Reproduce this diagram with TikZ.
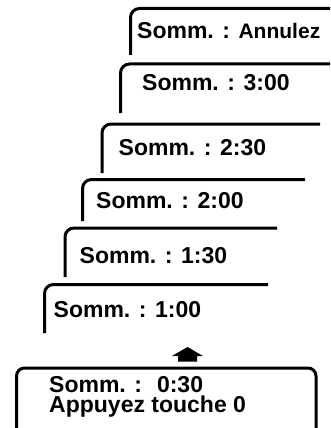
\documentclass[tikz,border=0pt]{standalone}
\usepackage{fontspec}
\setmainfont{Liberation Sans}
\usetikzlibrary{positioning}

\begin{document}
\begin{tikzpicture}[
    x=1pt, y=-1pt,
    card/.style={
        line width=3pt,
        rounded corners=9pt
    },
    screen/.style={
        line width=3pt,
        rounded corners=8pt
    },
    label/.style={
        anchor=base west,
        inner sep=0pt,
        font=\bfseries\fontsize{23}{26}\selectfont
    }
]
\useasboundingbox (0,0) rectangle (330,428);
\clip (0,0) rectangle (330,428);

% Stacked cards
\draw[card] (130.5,55) -- (130.5,8.5) -- (340,8.5);
\draw[card] (120.5,113) -- (120.5,64) -- (340,64);
\draw[card] (102,173) -- (102,124) -- (320,124);
\draw[card] (82.5,221) -- (82.5,179.5) -- (305,179.5);
\draw[card] (65,277) -- (65,228) -- (277,228);
\draw[card] (44.5,333) -- (44.5,284.5) -- (268,284.5);

\node[label] (annul) at (137,38.5) {Somm. : {\fontsize{21}{24}\selectfont Annulez}};
\node[label] (s300) at (142,90) {Somm. : 3:00};
\node[label] (s230) at (118.5,155.5) {Somm. : 2:30};
\node[label] (s200) at (96,208) {Somm. : 2:00};
\node[label] (s130) at (79.5,263) {Somm. : 1:30};
\node[label] (s100) at (53.5,317) {Somm. : 1:00};

% Up arrow
\coordinate (tip) at (187.5,347);
\fill (tip) -- ++(15.5,9) -- ++(-6,0) -- ++(0,5.5) -- ++(-19,0)
    -- ++(0,-5.5) -- ++(-6,0) -- cycle;

% Display
\draw[screen] (16.5,368) rectangle (316,450);
\node[label] (info) at (49,392) {Somm. :\hspace{15pt}0:30};
\node[label] (hint) at ([yshift=-20pt]info.base west) {Appuyez touche 0};

\end{tikzpicture}
\end{document}
